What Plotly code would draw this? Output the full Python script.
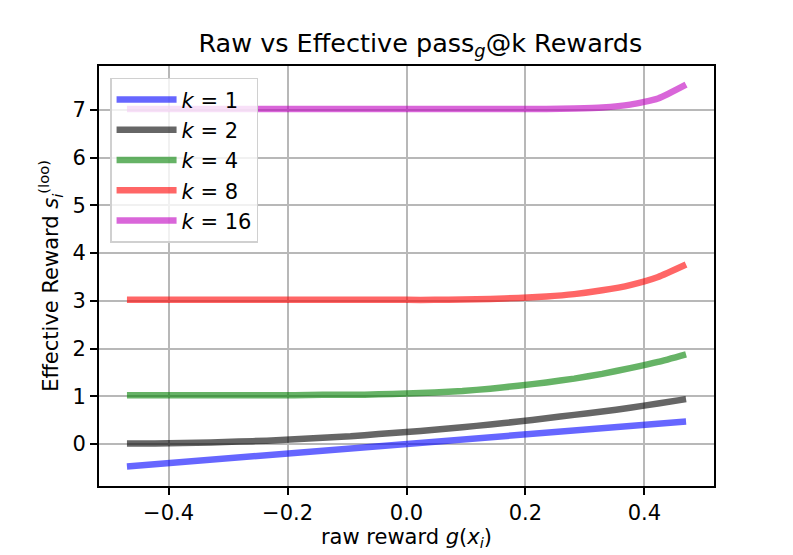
import plotly.graph_objects as go

# raw reward values (x axis)
g_raw = [-0.47, -0.423, -0.376, -0.329, -0.282, -0.235, -0.188, -0.141, -0.094, -0.047, 0.0,
         0.047, 0.094, 0.141, 0.188, 0.235, 0.282, 0.329, 0.376, 0.423, 0.47]

# effective rewards
k1 = [-0.47, -0.423, -0.376, -0.329, -0.282, -0.235, -0.188, -0.141, -0.094, -0.047, 0.0,
      0.047, 0.094, 0.141, 0.188, 0.235, 0.282, 0.329, 0.376, 0.423, 0.47]
k2 = [0.01, 0.01, 0.02, 0.03, 0.05, 0.07, 0.10, 0.13, 0.16, 0.21, 0.25,
      0.30, 0.35, 0.41, 0.47, 0.54, 0.61, 0.68, 0.76, 0.85, 0.94]
k4 = [1.02, 1.02, 1.02, 1.02, 1.02, 1.02, 1.02, 1.03, 1.03, 1.04, 1.06,
      1.08, 1.11, 1.16, 1.22, 1.29, 1.37, 1.47, 1.59, 1.72, 1.88]
k8 = [3.02, 3.02, 3.02, 3.02, 3.02, 3.02, 3.02, 3.02, 3.02, 3.02, 3.02,
      3.02, 3.03, 3.04, 3.06, 3.09, 3.14, 3.22, 3.33, 3.50, 3.76]
k16 = [7.02, 7.02, 7.02, 7.02, 7.02, 7.02, 7.02, 7.02, 7.02, 7.02, 7.02,
       7.02, 7.02, 7.02, 7.02, 7.02, 7.03, 7.05, 7.11, 7.24, 7.53]

series_names = ["<i>k</i> = 1", "<i>k</i> = 2", "<i>k</i> = 4", "<i>k</i> = 8", "<i>k</i> = 16"]
colors = ["rgba(0,0,255,0.6)", "rgba(0,0,0,0.6)", "rgba(0,128,0,0.6)",
          "rgba(255,0,0,0.6)", "rgba(191,0,191,0.6)"]

FONT = "DejaVu Sans"


def main():
    fig = go.Figure()
    for i, (name, ys) in enumerate(zip(series_names, [k1, k2, k4, k8, k16])):
        shape = "linear" if i == 0 else "spline"
        fig.add_trace(go.Scatter(x=g_raw, y=ys, mode="lines", name=name,
                                 line=dict(color=colors[i], width=6.5,
                                           shape=shape, smoothing=0.5)))

    ax = dict(showline=True, linecolor="black", linewidth=1.7, mirror=True,
              ticks="outside", ticklen=7, tickcolor="black", tickwidth=1.7,
              showgrid=True, gridcolor="#b8b8b8", gridwidth=1.6, zeroline=False,
              tickfont=dict(family=FONT, size=21, color="black"))
    fig.update_xaxes(range=[-0.517, 0.517], tickvals=[-0.4, -0.2, 0.0, 0.2, 0.4],
                     ticktext=["\u22120.4", "\u22120.2", "0.0", "0.2", "0.4"],
                     title=dict(text="raw reward <i>g</i>(<i>x</i><sub><i>i</i></sub>)",
                                font=dict(family=FONT, size=21, color="black"), standoff=4),
                     **ax)
    fig.update_yaxes(range=[-0.88, 7.92], tickvals=list(range(8)),
                     title=dict(text="Effective Reward <i>s</i><sub><i>i</i></sub><sup>(loo)</sup>",
                                font=dict(family=FONT, size=21, color="black"), standoff=8),
                     **ax)
    # page body adds an 8px offset, so margins are shifted to compensate
    fig.update_layout(
        width=793, height=555,
        margin=dict(l=91, r=87, t=58, b=77),
        paper_bgcolor="white", plot_bgcolor="white",
        title=dict(text="Raw vs Effective pass<sub><i>g</i></sub>@k Rewards",
                   x=0.52, xanchor="center", y=0.937, yanchor="middle",
                   font=dict(family=FONT, size=25.5, color="black")),
        legend=dict(x=0.018, y=0.972, xanchor="left", yanchor="top",
                    bgcolor="rgba(255,255,255,0.8)", bordercolor="#d0d0d0", borderwidth=1.5,
                    itemwidth=60,
                    font=dict(family=FONT, size=21, color="black")),
        showlegend=True,
    )
    fig.write_html("out.html")


if __name__ == "__main__":
    main()
